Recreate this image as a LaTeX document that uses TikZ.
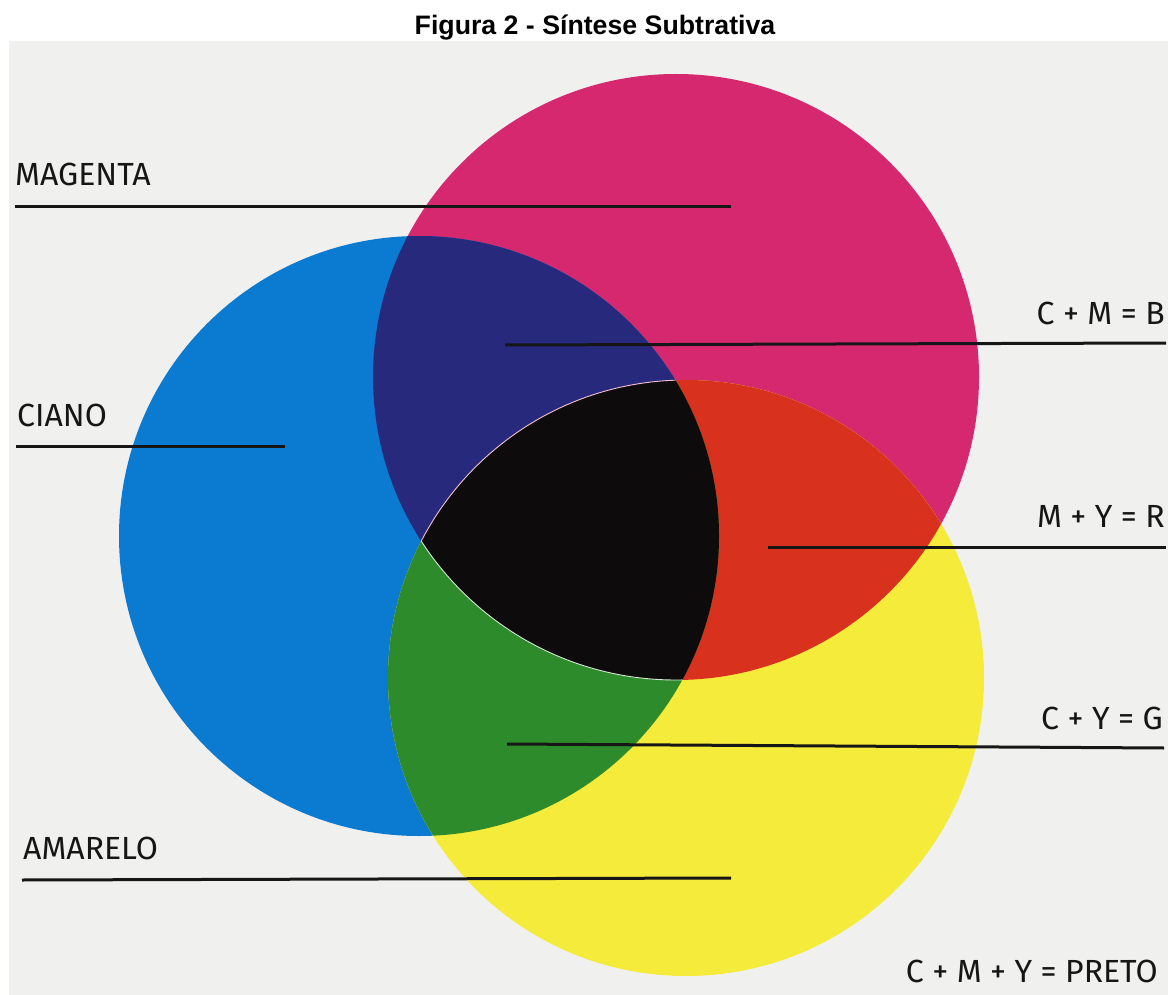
\documentclass[tikz,border=0pt]{standalone}
\usepackage{fontspec}
\setmainfont{Fira Sans}
\newfontfamily\titlefont{Liberation Sans}
\definecolor{paper}{HTML}{F0F0EF}
\definecolor{inkM}{HTML}{D6286E}
\definecolor{inkC}{HTML}{0B7AD1}
\definecolor{inkY}{HTML}{F5EB3B}
\definecolor{inkB}{HTML}{272A7C}
\definecolor{inkR}{HTML}{D8321F}
\definecolor{inkG}{HTML}{2E8B2B}
\definecolor{inkK}{HTML}{0D0B0C}
\definecolor{rule}{HTML}{161616}
\begin{document}
\begin{tikzpicture}[x=1pt,y=-1pt,
  leader/.style={draw=rule,line width=3pt},
  lbl/.style={inner sep=0pt,font=\fontsize{32}{36}\selectfont,text=rule},
  ttl/.style={inner sep=0pt,font=\titlefont\bfseries\fontsize{26.7}{30}\selectfont}]
  \useasboundingbox (0,0) rectangle (1168,995);
  \fill[white] (0,0) rectangle (1168,995);
  \fill[paper] (9,41) rectangle (1168,995);

  \node[ttl] (title) at (595,28) {Figura 2 - Síntese Subtrativa};

  % circle centres
  \coordinate (cM) at (676,377);
  \coordinate (cC) at (419,536);
  \coordinate (cY) at (686,678);

  % primary inks
  \fill[inkM] (cM) circle[radius=303pt];
  \fill[inkC] (cC) circle[radius=300pt];
  \fill[inkY] (cY) circle[radius=298pt];

  % two-ink overlaps
  \begin{scope}
    \clip (cC) circle[radius=300pt];
    \fill[inkB] (cM) circle[radius=303pt];
  \end{scope}
  \begin{scope}
    \clip (cM) circle[radius=303pt];
    \fill[inkR] (cY) circle[radius=298pt];
  \end{scope}
  \begin{scope}
    \clip (cC) circle[radius=300pt];
    \fill[inkG] (cY) circle[radius=298pt];
  \end{scope}
  % three-ink overlap
  \begin{scope}
    \clip (cC) circle[radius=300pt];
    \clip (cM) circle[radius=303pt];
    \fill[inkK] (cY) circle[radius=298pt];
  \end{scope}
  % faint registration edges on the left of the black area
  \begin{scope}
    \clip (cC) circle[radius=300pt];
    \clip (cM) circle[radius=303pt];
    \draw[color=white!70!inkM,line width=0.9pt] (cY) circle[radius=298pt];
  \end{scope}
  \begin{scope}
    \clip (cC) circle[radius=300pt];
    \clip (cY) circle[radius=298pt];
    \draw[color=white!80!inkG,line width=0.9pt] (cM) circle[radius=303pt];
  \end{scope}

  % labels
  \node[lbl,anchor=base west] (lM) at (15,186) {MAGENTA};
  \node[lbl,anchor=base west] (lC) at (17,426) {CIANO};
  \node[lbl,anchor=base west] (lY) at (23,859) {AMARELO};
  \node[lbl,anchor=base east] (lCM) at (1165,324) {C + M = B};
  \node[lbl,anchor=base east] (lMY) at (1165,527) {M + Y = R};
  \node[lbl,anchor=base east] (lCY) at (1163,729) {C + Y = G};
  \node[lbl,anchor=base east] (lK) at (1158,982) {C + M + Y = PRETO};

  % leader line end points
  \coordinate (mA) at (15,207);   \coordinate (mB) at (731,207);
  \coordinate (cA) at (16,446);   \coordinate (cB) at (285,446);
  \coordinate (yA) at (22,880);   \coordinate (yB) at (731,878);
  \coordinate (bA) at (505,345);  \coordinate (bB) at (1166,343);
  \coordinate (rA) at (768,547);  \coordinate (rB) at (1166,547);
  \coordinate (gA) at (507,744);  \coordinate (gB) at (1164,748);

  \draw[leader] (mA) -- (mB);
  \draw[leader] (cA) -- (cB);
  \draw[leader] (yA) -- (yB);
  \draw[leader] (bA) -- (bB);
  \draw[leader] (rA) -- (rB);
  \draw[leader] (gA) -- (gB);
\end{tikzpicture}
\end{document}
